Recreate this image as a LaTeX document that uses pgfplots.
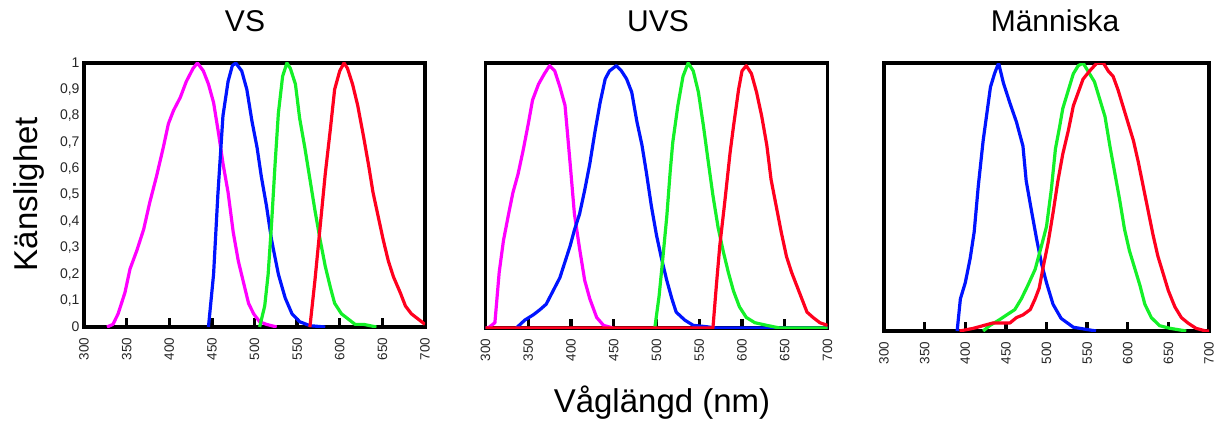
\documentclass[border=0pt]{standalone}
\usepackage{pgfplots}
\pgfplotsset{compat=1.18}
\usepackage{fontspec}
\setmainfont{Liberation Sans}
\definecolor{cmag}{RGB}{255,0,255}
\definecolor{cblue}{RGB}{0,20,255}
\definecolor{cgreen}{RGB}{20,240,40}
\definecolor{cred}{RGB}{255,0,30}
\pgfplotsset{
  panel/.style={
    scale only axis,
    xmin=300, xmax=700, ymin=0, ymax=1,
    axis line style={line width=3.6pt, line cap=rect},
    xtick={300,350,400,450,500,550,600,650,700},
    xtick pos=lower, ytick pos=left,
    tick align=inside,
    major tick length=9pt,
    xtick style={line width=3.4pt, black},
    /pgf/number format/assume math mode=true,
    xticklabel style={rotate=90, anchor=east, font=\fontsize{13.5}{14}\selectfont, text=black!85},
    xticklabel shift=7pt,
    /pgf/number format/1000 sep={},
    every axis plot/.append style={line width=3.2pt, line join=round},
  }
}
\begin{document}
\begin{tikzpicture}[x=1pt,y=1pt]
\path[use as bounding box] (0,0) rectangle (1217,421);
% ---------------- VS ----------------
\begin{axis}[panel, at={(84pt,94pt)}, anchor=south west, width=341pt, height=264pt,
  ytick={0,0.1,0.2,0.3,0.4,0.5,0.6,0.7,0.8,0.9,1},
  ytick style={draw=none},
  yticklabel style={font=\fontsize{14}{14}\selectfont, text=black!85, /pgf/number format/use comma, /pgf/number format/fixed},
  yticklabel shift=1pt]
\addplot[cmag] coordinates {(327,0)(334,0.01)(340,0.05)(348,0.13)(354,0.22)(362,0.29)(370,0.37)(377,0.47)(385,0.57)(393,0.68)(399,0.77)(405,0.82)(413,0.87)(420,0.93)(428,0.98)(433,1.0)(440,0.97)(446,0.92)(452,0.85)(458,0.73)(463,0.62)(469,0.51)(475,0.36)(481,0.25)(487,0.17)(493,0.09)(499,0.05)(506,0.02)(514,0.01)(526,0)};
\addplot[cblue] coordinates {(446,0)(452,0.2)(457,0.5)(463,0.8)(469,0.93)(474,0.99)(478,1.0)(485,0.97)(491,0.9)(497,0.78)(503,0.68)(508,0.57)(514,0.46)(520,0.33)(528,0.2)(536,0.11)(544,0.05)(553,0.02)(565,0.005)(583,0)};
\addplot[cgreen] coordinates {(506,0)(512,0.08)(516,0.2)(520,0.39)(524,0.61)(528,0.81)(533,0.95)(538,1.0)(542,0.98)(548,0.92)(553,0.79)(559,0.68)(565,0.56)(571,0.44)(577,0.33)(583,0.23)(589,0.15)(594,0.09)(602,0.05)(610,0.03)(618,0.01)(628,0.01)(643,0)};
\addplot[cred] coordinates {(565,0)(571,0.18)(577,0.38)(583,0.58)(589,0.75)(594,0.9)(600,0.97)(605,1.0)(609,0.98)(615,0.92)(621,0.84)(628,0.72)(634,0.61)(639,0.51)(645,0.42)(651,0.33)(657,0.25)(663,0.19)(671,0.13)(677,0.08)(684,0.05)(692,0.03)(700,0.01)};
\end{axis}
% ---------------- UVS ----------------
\begin{axis}[panel, at={(485.5pt,93pt)}, anchor=south west, width=342pt, height=265pt,
  ytick=\empty]
\addplot[cmag] coordinates {(300,0)(303,0)(311,0.02)(316,0.21)(321,0.33)(327,0.43)(332,0.51)(338,0.58)(344,0.67)(350,0.77)(355,0.86)(362,0.92)(369,0.96)(375,0.99)(381,0.97)(387,0.91)(393,0.84)(399,0.62)(404,0.43)(410,0.30)(416,0.18)(422,0.11)(430,0.04)(438,0.01)(449,0)};
\addplot[cblue] coordinates {(336,0)(346,0.03)(356,0.05)(364,0.07)(371,0.09)(379,0.14)(387,0.19)(393,0.25)(399,0.31)(404,0.37)(410,0.43)(416,0.52)(422,0.62)(428,0.74)(434,0.85)(440,0.94)(445,0.97)(453,0.99)(459,0.97)(465,0.94)(471,0.89)(477,0.78)(483,0.69)(488,0.59)(494,0.46)(500,0.35)(506,0.26)(512,0.18)(518,0.11)(523,0.06)(533,0.03)(543,0.01)(558,0.005)(570,0)(700,0)};
\addplot[cgreen] coordinates {(498,0)(503,0.12)(507,0.25)(512,0.42)(516,0.59)(519,0.70)(525,0.84)(531,0.95)(537,1.0)(543,0.97)(549,0.89)(555,0.76)(560,0.64)(566,0.50)(572,0.38)(578,0.29)(584,0.21)(590,0.14)(597,0.08)(605,0.04)(615,0.02)(629,0.01)(644,0)(700,0)};
\addplot[cred] coordinates {(300,0)(566,0)(570,0.16)(574,0.31)(580,0.48)(586,0.66)(590,0.76)(596,0.9)(600,0.97)(605,0.99)(611,0.96)(617,0.89)(623,0.8)(629,0.69)(634,0.56)(640,0.46)(646,0.36)(652,0.27)(658,0.21)(664,0.16)(670,0.11)(676,0.06)(683,0.04)(691,0.02)(700,0.01)};
\end{axis}
% ---------------- Människa ----------------
\begin{axis}[panel, at={(884pt,90pt)}, anchor=south west, width=325pt, height=268pt,
  ytick=\empty]
\addplot[cblue] coordinates {(390,0)(394,0.12)(400,0.18)(406,0.27)(411,0.37)(416,0.54)(422,0.71)(431,0.91)(436,0.96)(441,1.0)(447,0.925)(455,0.85)(463,0.78)(471,0.69)(475,0.56)(482,0.44)(488,0.34)(494,0.25)(500,0.18)(508,0.10)(518,0.047)(533,0.014)(561,0)};
\addplot[cgreen] coordinates {(422,0)(430,0.02)(441,0.04)(451,0.06)(461,0.08)(469,0.12)(477,0.17)(486,0.23)(494,0.32)(500,0.39)(506,0.53)(511,0.68)(516,0.76)(520,0.83)(527,0.9)(533,0.96)(539,0.99)(545,1.0)(551,0.97)(559,0.93)(566,0.86)(572,0.80)(578,0.69)(584,0.59)(590,0.49)(596,0.38)(602,0.30)(609,0.23)(615,0.17)(621,0.10)(629,0.05)(639,0.02)(652,0.01)(672,0)};
\addplot[cred] coordinates {(393,0)(410,0.01)(422,0.02)(434,0.03)(447,0.03)(455,0.03)(463,0.05)(471,0.06)(480,0.08)(486,0.12)(491,0.16)(496,0.24)(502,0.33)(508,0.44)(514,0.56)(520,0.66)(527,0.75)(533,0.84)(539,0.89)(545,0.94)(553,0.97)(562,1.0)(570,1.0)(576,0.97)(582,0.95)(588,0.9)(594,0.84)(600,0.78)(607,0.71)(613,0.63)(619,0.54)(625,0.45)(631,0.36)(637,0.28)(643,0.22)(650,0.15)(658,0.09)(666,0.05)(674,0.03)(684,0.01)(696,0)(700,0)};
\end{axis}
% ---------------- titles and labels ----------------
\node[anchor=base, font=\fontsize{30}{30}\selectfont] at (245,389) {VS};
\node[anchor=base, font=\fontsize{30}{30}\selectfont] at (658,389) {UVS};
\node[anchor=base, font=\fontsize{30}{30}\selectfont] at (1055,389) {Människa};
\node[anchor=base, font=\fontsize{33}{33}\selectfont] at (662,9) {Våglängd (nm)};
\node[anchor=base, rotate=90, font=\fontsize{33}{33}\selectfont] at (37,227) {Känslighet};
\end{tikzpicture}
\end{document}
